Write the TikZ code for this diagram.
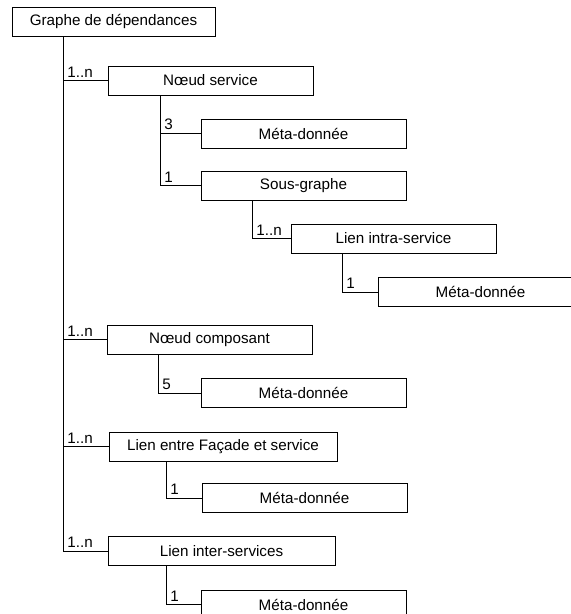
\documentclass[tikz,border=0pt]{standalone}
\usepackage{fontspec}
\setmainfont{Liberation Sans}
\begin{document}
\begin{tikzpicture}[x=1pt, y=-1pt, line width=0.8pt,
  box/.style={draw, rectangle, minimum height=29pt, minimum width=205pt, inner sep=0pt, font=\fontsize{15.2}{18}\selectfont},
  mult/.style={anchor=south west, inner sep=3pt, xshift=1pt, font=\fontsize{15.2}{18}\selectfont}]
  \useasboundingbox (0,0) rectangle (571,614);
  \clip (0,0) rectangle (571,614);
  \node[box, minimum width=203pt] (gr) at (113.5,21.5) {Graphe de dépendances};
  \node[box] (ns) at (210.5,80.5) {Nœud service};
  \node[box] (m1) at (303.5,133.5) {Méta-donnée};
  \node[box] (sg) at (303.5,185.5) {Sous-graphe};
  \node[box] (li) at (393.5,238.5) {Lien intra-service};
  \node[box] (m2) at (480.5,292.0) {Méta-donnée};
  \node[box] (nc) at (209.5,339.5) {Nœud composant};
  \node[box] (m3) at (303.5,393.0) {Méta-donnée};
  \node[box, minimum width=228pt] (lf) at (223.0,446.5) {Lien entre Façade et service};
  \node[box] (m4) at (304.5,498.0) {Méta-donnée};
  \node[box, minimum width=227pt] (ls) at (221.5,551.0) {Lien inter-services};
  \node[box] (m5) at (303.5,604.5) {Méta-donnée};
  \coordinate (t0) at (63,0);
  \coordinate (t1) at (160,0);
  \coordinate (t2) at (252,0);
  \coordinate (t3) at (342,0);
  \coordinate (t4) at (158,0);
  \coordinate (t5) at (166,0);
  \draw (gr.south -| t0) |- (ls.west);
  \draw (t0 |- ns.west) -- (ns.west);
  \draw (t0 |- nc.west) -- (nc.west);
  \draw (t0 |- lf.west) -- (lf.west);
  \draw (ns.south -| t1) |- (sg.west);
  \draw (t1 |- m1.west) -- (m1.west);
  \draw (sg.south -| t2) |- (li.west);
  \draw (li.south -| t3) |- (m2.west);
  \draw (nc.south -| t4) |- (m3.west);
  \draw (lf.south -| t5) |- (m4.west);
  \draw (ls.south -| t5) |- (m5.west);
  \node[mult] at (t0 |- ns.west) {1..n};
  \node[mult] at (t1 |- m1.west) {3};
  \node[mult] at (t1 |- sg.west) {1};
  \node[mult] at (t2 |- li.west) {1..n};
  \node[mult] at (t3 |- m2.west) {1};
  \node[mult] at (t0 |- nc.west) {1..n};
  \node[mult] at (t4 |- m3.west) {5};
  \node[mult] at (t0 |- lf.west) {1..n};
  \node[mult] at (t5 |- m4.west) {1};
  \node[mult] at (t0 |- ls.west) {1..n};
  \node[mult] at (t5 |- m5.west) {1};
\end{tikzpicture}
\end{document}
